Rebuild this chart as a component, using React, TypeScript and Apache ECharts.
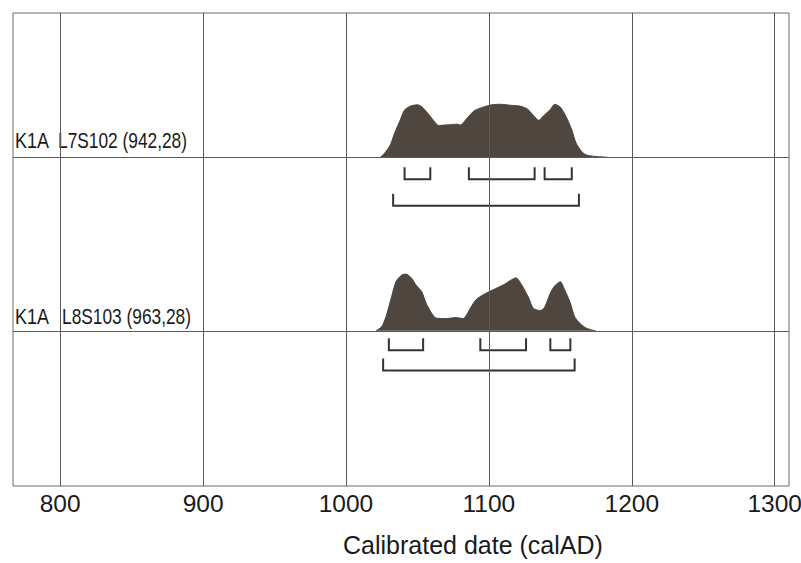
import React, { useEffect, useRef } from 'react';
import * as echarts from 'echarts';

// ---- data ----
const xTicks = [800, 900, 1000, 1100, 1200, 1300];
const siteLabels = ['K1A', 'K1A'];
const sampleLabels = ['L7S102 (942,28)', 'L8S103 (963,28)'];
const axisTitle = 'Calibrated date (calAD)';

// L7S102 probability distribution (year calAD, relative probability)
const years1 = [1024, 1027, 1031, 1034, 1038, 1041, 1045, 1050, 1053, 1057, 1061, 1065, 1068, 1073, 1078, 1080, 1082, 1086, 1090, 1096, 1102, 1108, 1115, 1122, 1127, 1131, 1135, 1138, 1143, 1146, 1150, 1154, 1158, 1161, 1165, 1168, 1175, 1183];
const prob1 = [0, 0.85, 2.6, 5.1, 7.9, 10.0, 10.8, 11.1, 10.7, 9.4, 7.9, 6.7, 6.8, 6.9, 7.0, 6.8, 7.3, 8.7, 9.9, 10.6, 11.1, 11.2, 11.0, 10.8, 10.2, 8.9, 7.8, 8.7, 10.1, 11.2, 10.6, 8.6, 5.8, 3.0, 1.2, 0.5, 0.15, 0];

// L8S103 probability distribution
const years2 = [1021, 1025, 1028, 1032, 1035, 1039, 1042, 1046, 1049, 1053, 1056, 1060, 1063, 1070, 1077, 1082, 1087, 1091, 1097, 1103, 1110, 1119, 1123, 1128, 1131, 1136, 1139, 1143, 1146, 1150, 1153, 1157, 1160, 1164, 1168, 1172, 1175];
const prob2 = [0, 0.9, 3.0, 7.3, 10.4, 11.8, 12.0, 11.1, 9.7, 8.3, 5.9, 3.7, 2.7, 2.6, 2.8, 2.6, 4.8, 6.6, 7.8, 8.7, 9.7, 11.2, 9.7, 6.9, 4.8, 4.3, 5.0, 8.0, 9.5, 10.4, 8.7, 5.9, 3.0, 1.5, 0.6, 0.2, 0];

// calibrated ranges (68.2% and 95.4%)
const ranges68_1 = [[1041, 1059], [1086, 1132], [1139, 1158]];
const ranges95_1 = [[1033, 1163]];
const ranges68_2 = [[1030, 1054], [1094, 1126], [1143, 1157]];
const ranges95_2 = [[1026, 1160]];

// ---- layout ----
const X_MIN = 767;
const X_MAX = 1310;
const BASE = [69.5, 32.8]; // row baselines in y units (0..100)
const BRACKET_OFFSET = [[22, 48.4], [19.5, 39.7]]; // px below baseline
const BRACKET_H = 12;
const FILL = '#4e463f';
const GRID_COLOR = '#5a5a5a';
const TEXT = '#1a1a1a';
const FONT = '"Liberation Sans", Arial, sans-serif';

export default function App() {
  const ref = useRef<HTMLDivElement>(null);
  useEffect(() => {
    if (!ref.current) return;
    const chart = echarts.init(ref.current, undefined, { renderer: 'svg' });

    const dist = (years: number[], prob: number[], base: number) =>
      years.map((y, i) => [y, base + prob[i]]);

    const brackets: number[][] = [];
    ranges68_1.forEach(r => brackets.push([r[0], r[1], 0, 0]));
    ranges95_1.forEach(r => brackets.push([r[0], r[1], 0, 1]));
    ranges68_2.forEach(r => brackets.push([r[0], r[1], 1, 0]));
    ranges95_2.forEach(r => brackets.push([r[0], r[1], 1, 1]));

    const rowTextY = [140.5, 316.5];
    const sampleX = [58, 62];
    const graphics: any[] = [];
    siteLabels.forEach((t, i) => {
      graphics.push({
        type: 'text', x: 15, y: rowTextY[i], scaleX: 0.8,
        style: { text: t, fontSize: 22.5, fontFamily: FONT, fill: TEXT, verticalAlign: 'middle' },
      });
      graphics.push({
        type: 'text', x: sampleX[i], y: rowTextY[i], scaleX: 0.77,
        style: { text: sampleLabels[i], fontSize: 22.5, fontFamily: FONT, fill: TEXT, verticalAlign: 'middle' },
      });
    });
    graphics.push({
      type: 'text', x: 343, y: 545,
      style: { text: axisTitle, fontSize: 25, fontFamily: FONT, fill: TEXT, verticalAlign: 'middle' },
    });

    chart.setOption({
      animation: false,
      backgroundColor: '#ffffff',
      grid: {
        left: 13, right: 12, top: 13, bottom: 77, show: true,
        borderColor: '#6a6a6a', borderWidth: 1, backgroundColor: 'transparent',
        outerBoundsMode: 'none', containLabel: false,
      },
      xAxis: {
        type: 'value', min: X_MIN, max: X_MAX,
        axisLine: { show: false }, axisTick: { show: false }, splitLine: { show: false },
        axisLabel: {
          customValues: xTicks,
          formatter: (v: number) => String(v), fontSize: 24.5,
          fontFamily: FONT, color: TEXT, margin: 5,
        },
      },
      yAxis: { type: 'value', min: 0, max: 100, show: false },
      graphic: graphics,
      series: [
        {
          type: 'line', data: [], silent: true, z: 1,
          markLine: {
            silent: true, symbol: ['none', 'none'], label: { show: false },
            lineStyle: { color: GRID_COLOR, width: 1, type: 'solid' },
            data: [
              ...xTicks.map(v => ({ xAxis: v })),
              ...BASE.map(v => ({ yAxis: v })),
            ],
          },
        },
        {
          type: 'line', data: dist(years1, prob1, BASE[0]), showSymbol: false, smooth: 0.25, z: 2,
          lineStyle: { color: FILL, width: 1 },
          areaStyle: { color: FILL, opacity: 1, origin: BASE[0] },
        },
        {
          type: 'line', data: dist(years2, prob2, BASE[1]), showSymbol: false, smooth: 0.25, z: 2,
          lineStyle: { color: FILL, width: 1 },
          areaStyle: { color: FILL, opacity: 1, origin: BASE[1] },
        },
        {
          type: 'custom', z: 3, data: brackets, encode: { x: [0, 1], y: 2 },
          renderItem: (params: any, api: any) => {
            const s = api.value(0), e = api.value(1), row = api.value(2), lvl = api.value(3);
            const p1 = api.coord([s, BASE[row]]);
            const p2 = api.coord([e, BASE[row]]);
            const y = p1[1] + BRACKET_OFFSET[row][lvl];
            return {
              type: 'polyline',
              shape: { points: [[p1[0], y - BRACKET_H], [p1[0], y], [p2[0], y], [p2[0], y - BRACKET_H]] },
              style: { stroke: '#333333', lineWidth: 2, fill: 'none' },
            };
          },
        },
      ],
    });
    return () => chart.dispose();
  }, []);
  return <div ref={ref} style={{ position: 'fixed', left: 0, top: 0, width: 801, height: 563, background: '#fff' }} />;
}
